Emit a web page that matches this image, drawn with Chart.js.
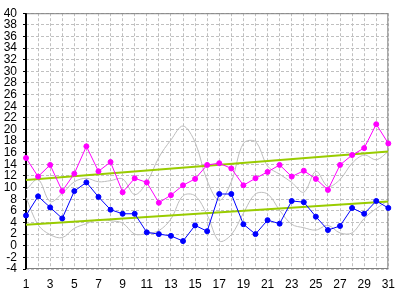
<!DOCTYPE html>
<html>
<head>
<meta charset="utf-8">
<script src="https://cdn.jsdelivr.net/npm/chart.js@4/dist/chart.umd.min.js"></script>
<style>
  html, body { margin: 0; padding: 0; background: #fff; }
  canvas { display: block; }
</style>
</head>
<body>
<canvas id="chart" width="403" height="290"></canvas>
<script>
// days of the month
const days = [1,2,3,4,5,6,7,8,9,10,11,12,13,14,15,16,17,18,19,20,21,22,23,24,25,26,27,28,29,30,31];

// pink series
const pinkVals = [15.1, 11.9, 13.9, 9.4, 12.4, 17.1, 12.8, 14.4, 9.2, 11.6, 10.9, 7.4, 8.7, 10.4, 11.5, 13.9,
                  14.2, 13.3, 10.4, 11.6, 12.7, 13.9, 11.9, 12.9, 11.5, 9.6, 13.9, 15.6, 16.8, 20.9, 17.6];
// blue series
const blueVals = [5.2, 8.5, 6.6, 4.7, 9.4, 10.9, 8.4, 6.2, 5.5, 5.5, 2.3, 2.0, 1.7, 0.8, 3.5, 2.5,
                  8.9, 8.9, 3.7, 2.0, 4.4, 3.8, 7.7, 7.5, 5.0, 2.7, 3.4, 6.5, 5.5, 7.7, 6.5];
// grey reference lines
const greyHigh = [9.6, 11.4, 7.6, 9.0, 11.0, 11.6, 11.0, 11.2, 11.5, 8.8, 10.9, 15.2, 18.2, 20.6, 17.8, 11.2,
                  7.8, 11.0, 17.6, 17.9, 13.7, 12.3, 10.9, 9.2, 12.8, 10.2, 11.4, 14.2, 15.6, 14.8, 16.2];
const greyLow  = [8.3, 3.6, 1.9, 1.4, 3.0, 3.8, 4.5, 4.3, 3.9, 2.0, 2.1, 2.6, 4.6, 8.6, 8.6, 5.3,
                  0.8, 1.9, 5.6, 8.9, 8.9, 6.1, 3.7, 3.1, 2.7, 3.5, 2.2, 2.2, 4.7, 6.4, 7.8];
// trend lines (start / end)
const trendDays = [1, 31];
const trendHigh = [11.3, 16.2];
const trendLow  = [3.6, 7.6];

const yMin = -4, yMax = 40, yStep = 2;

function pts(xs, ys) {
  return xs.map((x, i) => ({ x: x, y: ys[i] }));
}

const framePlugin = {
  id: 'frame',
  beforeDatasetsDraw(chart) {
    const a = chart.chartArea;
    const ctx = chart.ctx;
    ctx.save();
    ctx.strokeStyle = '#808080';
    ctx.lineWidth = 1;
    ctx.strokeRect(a.left + 0.5, a.top + 0.5, a.right - a.left - 1, a.bottom - a.top - 1);
    ctx.strokeStyle = '#000';
    ctx.lineWidth = 2;
    ctx.beginPath();
    ctx.moveTo(a.left, a.top);
    ctx.lineTo(a.left, a.bottom);
    ctx.stroke();
    ctx.restore();
  }
};

new Chart('chart', {
  type: 'line',
  data: {
    datasets: [
      { data: pts(days, pinkVals), borderColor: '#ff00ff', backgroundColor: '#ff00ff',
        borderWidth: 1, pointRadius: 2.5, pointStyle: 'circle', clip: false },
      { data: pts(days, blueVals), borderColor: '#0000ff', backgroundColor: '#0000ff',
        borderWidth: 1, pointRadius: 2.5, pointStyle: 'circle', clip: false },
      { data: pts(trendDays, trendHigh), borderColor: '#99cc00', borderWidth: 2, pointRadius: 0 },
      { data: pts(trendDays, trendLow), borderColor: '#99cc00', borderWidth: 2, pointRadius: 0 },
      { data: pts(days, greyHigh), borderColor: '#bdbdbd', borderWidth: 1, pointRadius: 0, tension: 0.35 },
      { data: pts(days, greyLow), borderColor: '#bdbdbd', borderWidth: 1, pointRadius: 0, tension: 0.35 }
    ]
  },
  options: {
    responsive: false,
    animation: false,
    layout: { padding: { top: 5, right: 5, left: 0, bottom: 0 } },
    plugins: { legend: { display: false }, tooltip: { enabled: false } },
    scales: {
      x: {
        type: 'linear',
        min: 1, max: 31,
        afterFit(scale) { scale.height = 21; },
        ticks: {
          stepSize: 1,
          autoSkip: false,
          maxRotation: 0,
          padding: 8,
          color: '#000',
          font: { family: 'Liberation Sans', size: 12 },
          callback: v => (v % 2 === 1 ? String(v) : '')
        },
        grid: { color: '#c0c0c0', drawTicks: false },
        border: { display: false, dash: [3, 2] }
      },
      y: {
        min: yMin, max: yMax,
        afterFit(scale) { scale.width = 26; },
        ticks: {
          stepSize: yStep,
          autoSkip: false,
          padding: 6,
          color: '#000',
          font: { family: 'Liberation Sans', size: 12 }
        },
        grid: { color: '#c0c0c0', drawTicks: true, tickLength: 3, tickColor: '#000' },
        border: { display: false, dash: [3, 2] }
      }
    }
  },
  plugins: [framePlugin]
});
</script>
</body>
</html>
